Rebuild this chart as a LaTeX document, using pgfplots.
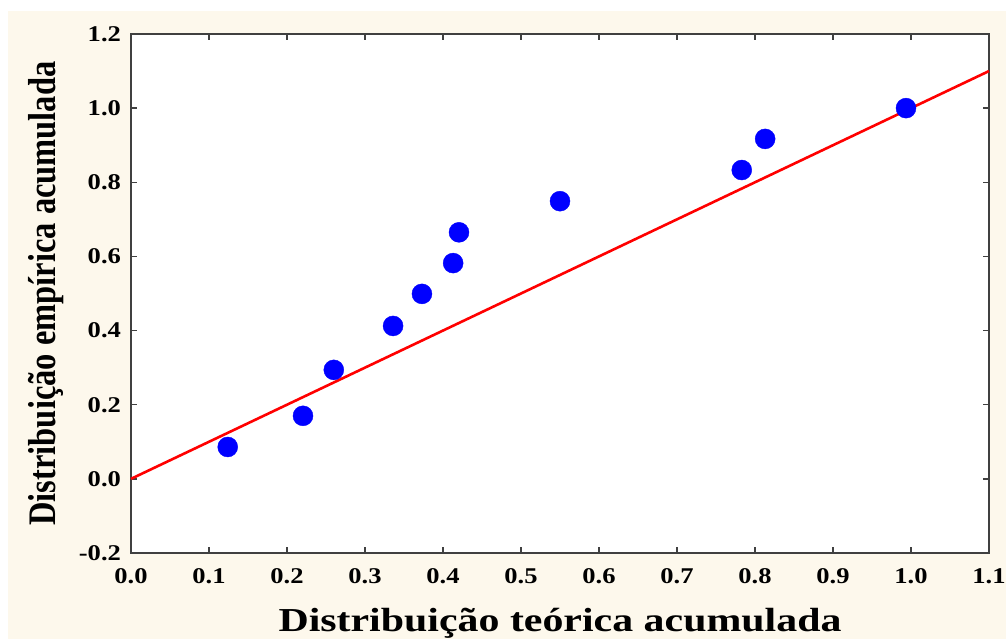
\documentclass[border=0pt]{standalone}
\usepackage{pgfplots}
\pgfplotsset{compat=1.18}
\usepackage{fontspec}
\setmainfont{Liberation Serif}
\definecolor{cream}{RGB}{253,248,236}
\definecolor{axgray}{RGB}{64,64,64}
\begin{document}
\begin{tikzpicture}[x=1pt,y=1pt]
\path[use as bounding box] (0,0) rectangle (1006,639);
\fill[cream] (8,0) rectangle (1006,628);
\begin{axis}[
  at={(131pt,86pt)}, anchor=south west,
  width=858pt, height=519pt, scale only axis,
  xmin=0, xmax=1.1, ymin=-0.2, ymax=1.2,
  xtick={0,0.1,...,1.1}, ytick={-0.2,0,0.2,0.4,0.6,0.8,1.0,1.2},
  /pgf/number format/.cd, fixed, fixed zerofill, precision=1, assume math mode=true, /pgfplots/.cd,
  tick label style={font=\fontsize{22.5}{24}\selectfont\bfseries, text=black, xscale=1.18},
  xticklabel style={yshift=-12pt},
  yticklabel style={xshift=-5pt},
  tick align=inside, major tick length=6pt,
  tick style={axgray, line width=1.5pt},
  axis line style={axgray, line width=2pt},
  axis background/.style={fill=white},
  xlabel={\scalebox{1.25}[1]{Distribuição teórica acumulada}},
  ylabel={\scalebox{1}[1.2]{Distribuição empírica acumulada}},
  xlabel style={font=\fontsize{33.5}{36}\selectfont\bfseries, yshift=-17pt},
  ylabel style={font=\fontsize{32.5}{34}\selectfont\bfseries, yshift=8pt},
  clip=false,
]
\addplot[red, line width=2.6pt, no marks] coordinates {(0,0) (1.1,1.1)};
\addplot[only marks, mark=*, mark size=10pt, mark options={draw=blue, fill=blue}] coordinates {
(0.124,0.086) (0.2205,0.170) (0.260,0.294) (0.336,0.4125) (0.373,0.499)
(0.413,0.582) (0.4205,0.665) (0.550,0.749) (0.783,0.833) (0.813,0.917) (0.9936,1.0)
};
\end{axis}
\end{tikzpicture}
\end{document}
